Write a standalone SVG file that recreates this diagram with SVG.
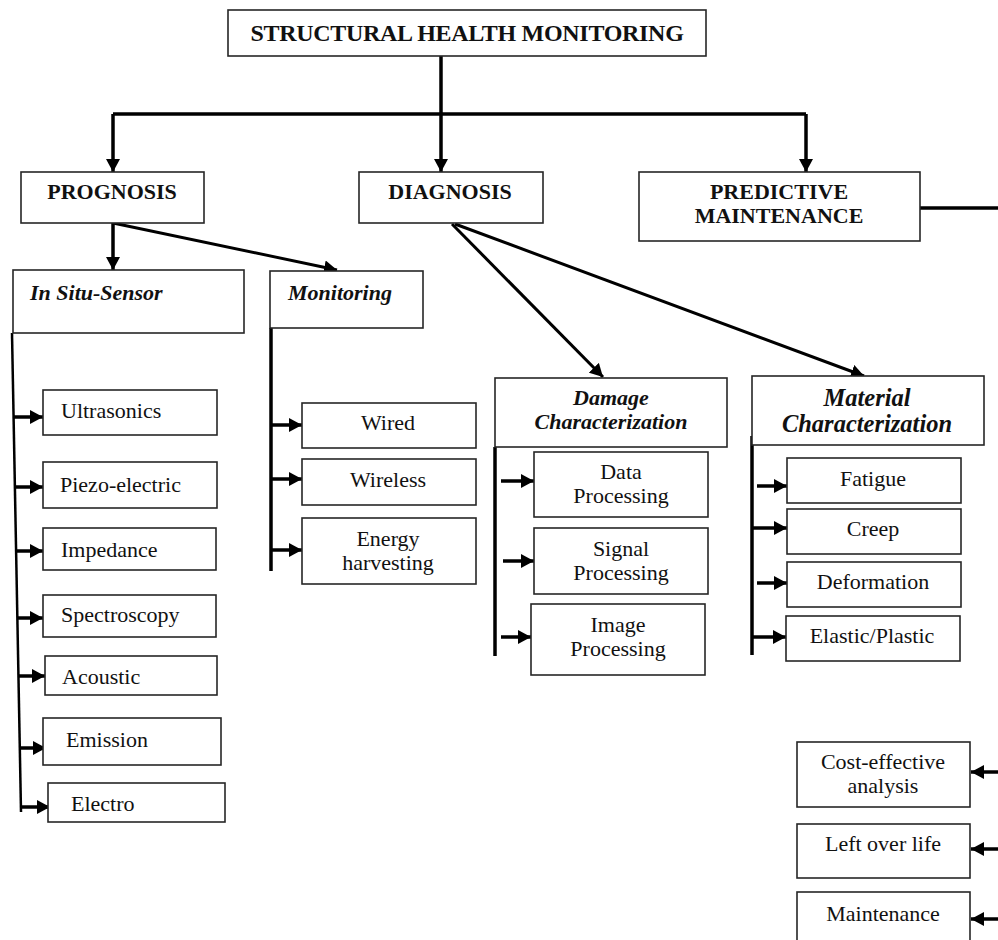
<svg xmlns="http://www.w3.org/2000/svg" width="998" height="940" viewBox="0 0 998 940">
<style>
.box{fill:#fff;stroke:#262626;stroke-width:1.6}
.t{font-family:"Liberation Serif","Times New Roman",serif;font-size:22px;fill:#111}
.b{font-weight:bold}
.i{font-style:italic;font-weight:bold}
.c{text-anchor:middle}
.big{font-size:24.5px}
.ttl{font-size:24px;letter-spacing:-0.3px}
.ln{stroke:#000;fill:none;stroke-width:3.5}
.thin{stroke:#000;fill:none;stroke-width:2.5}
.ar{stroke:#000;fill:none;stroke-width:3.5;marker-end:url(#ah)}
.ard{stroke:#000;fill:none;stroke-width:3;marker-end:url(#ah)}
</style>
<defs>
<marker id="ah" markerUnits="userSpaceOnUse" markerWidth="14" markerHeight="14" refX="13" refY="7" orient="auto">
<path d="M0,0 L13,7 L0,14 z" fill="#000"/>
</marker>
</defs>
<rect width="998" height="940" fill="#fff"/>
<g id="connectors">
<path class="ln" d="M441,56 V114"/>
<path class="ln" d="M113,114 H806"/>
<path class="ar" d="M113,114 V172"/>
<path class="ar" d="M441,114 V172"/>
<path class="ar" d="M806,114 V172"/>
<path class="ln" d="M920,208 H998"/>
<path class="ar" d="M113,223 V270"/>
<path class="ard" d="M113,223 L337,270"/>
<path class="ard" d="M452,224 L603,377"/>
<path class="ard" d="M455,224 L864,376"/>
<path class="thin" d="M12,333 L21,812"/>
<path class="ar" d="M13.6,417 H43"/>
<path class="ar" d="M14.9,487 H43"/>
<path class="ar" d="M16.1,551 H43"/>
<path class="ar" d="M17.4,618 H43"/>
<path class="ar" d="M18.4,676 H45"/>
<path class="ar" d="M19.8,748 H46"/>
<path class="ar" d="M20.9,807 H50"/>
<path class="ln" d="M271,328 V571" stroke-width="4.5"/>
<path class="ar" d="M271,425 H302"/>
<path class="ar" d="M271,479 H302"/>
<path class="ar" d="M271,550 H302"/>
<path class="ln" d="M495,447 V656" stroke-width="4.5"/>
<path class="ar" d="M501,481 H534"/>
<path class="ar" d="M503,561 H534"/>
<path class="ar" d="M501,637 H531"/>
<path class="ln" d="M752,436 V655" stroke-width="4.5"/>
<path class="ar" d="M757,486 H787"/>
<path class="ar" d="M752,528 H787"/>
<path class="ar" d="M757,583 H787"/>
<path class="ar" d="M752,637 H786"/>
<path class="ar" d="M998,772 H971"/>
<path class="ar" d="M998,849 H971"/>
<path class="ar" d="M998,919 H971"/>
</g>
<g id="shm"><rect class="box" x="228" y="10" width="478" height="46"/><text class="t b c ttl" x="467" y="41">STRUCTURAL HEALTH MONITORING</text></g>
<g id="prognosis"><rect class="box" x="21" y="172" width="183" height="51"/><text class="t b c" x="112" y="199">PROGNOSIS</text></g>
<g id="diagnosis"><rect class="box" x="359" y="172" width="184" height="51"/><text class="t b c" x="450" y="199">DIAGNOSIS</text></g>
<g id="predictive"><rect class="box" x="639" y="172" width="281" height="69"/><text class="t b c" x="779" y="199">PREDICTIVE</text><text class="t b c" x="779" y="223">MAINTENANCE</text></g>
<g id="insitu"><rect class="box" x="13" y="270" width="231" height="63"/><text class="t i" x="30" y="300">In Situ-Sensor</text></g>
<g id="monitoring"><rect class="box" x="270" y="271" width="153" height="57"/><text class="t i" x="288" y="300">Monitoring</text></g>
<g id="ultrasonics"><rect class="box" x="43" y="390" width="174" height="45"/><text class="t" x="61" y="418">Ultrasonics</text></g>
<g id="piezo"><rect class="box" x="43" y="462" width="174" height="46"/><text class="t" x="60" y="492">Piezo-electric</text></g>
<g id="impedance"><rect class="box" x="43" y="528" width="173" height="42"/><text class="t" x="61" y="557">Impedance</text></g>
<g id="spectroscopy"><rect class="box" x="43" y="595" width="173" height="42"/><text class="t" x="61" y="622">Spectroscopy</text></g>
<g id="acoustic"><rect class="box" x="45" y="656" width="172" height="39"/><text class="t" x="62" y="684">Acoustic</text></g>
<g id="emission"><rect class="box" x="43" y="718" width="178" height="47"/><text class="t" x="66" y="747">Emission</text></g>
<g id="electro"><rect class="box" x="48" y="783" width="177" height="39"/><text class="t" x="71" y="811">Electro</text></g>
<g id="wired"><rect class="box" x="302" y="403" width="174" height="45"/><text class="t c" x="388" y="430">Wired</text></g>
<g id="wireless"><rect class="box" x="302" y="459" width="174" height="46"/><text class="t c" x="388" y="487">Wireless</text></g>
<g id="energy"><rect class="box" x="302" y="518" width="174" height="66"/><text class="t c" x="388" y="546">Energy</text><text class="t c" x="388" y="570">harvesting</text></g>
<g id="damage"><rect class="box" x="495" y="378" width="232" height="69"/><text class="t i c" x="611" y="405">Damage</text><text class="t i c" x="611" y="429">Characterization</text></g>
<g id="material"><rect class="box" x="752" y="376" width="232" height="69"/><text class="t i c big" x="867" y="406">Material</text><text class="t i c big" x="867" y="432">Characterization</text></g>
<g id="dataproc"><rect class="box" x="534" y="452" width="174" height="65"/><text class="t c" x="621" y="479">Data</text><text class="t c" x="621" y="503">Processing</text></g>
<g id="signalproc"><rect class="box" x="534" y="528" width="174" height="66"/><text class="t c" x="621" y="556">Signal</text><text class="t c" x="621" y="580">Processing</text></g>
<g id="imageproc"><rect class="box" x="531" y="604" width="174" height="71"/><text class="t c" x="618" y="632">Image</text><text class="t c" x="618" y="656">Processing</text></g>
<g id="fatigue"><rect class="box" x="787" y="458" width="174" height="45"/><text class="t c" x="873" y="486">Fatigue</text></g>
<g id="creep"><rect class="box" x="787" y="509" width="174" height="45"/><text class="t c" x="873" y="536">Creep</text></g>
<g id="deformation"><rect class="box" x="787" y="562" width="174" height="45"/><text class="t c" x="873" y="589">Deformation</text></g>
<g id="elastic"><rect class="box" x="786" y="616" width="174" height="45"/><text class="t c" x="872" y="643">Elastic/Plastic</text></g>
<g id="cost"><rect class="box" x="797" y="742" width="173" height="65"/><text class="t c" x="883" y="769">Cost-effective</text><text class="t c" x="883" y="793">analysis</text></g>
<g id="leftover"><rect class="box" x="797" y="824" width="173" height="54"/><text class="t c" x="883" y="851">Left over life</text></g>
<g id="maintenance"><rect class="box" x="797" y="892" width="173" height="60"/><text class="t c" x="883" y="921">Maintenance</text></g>
</svg>
